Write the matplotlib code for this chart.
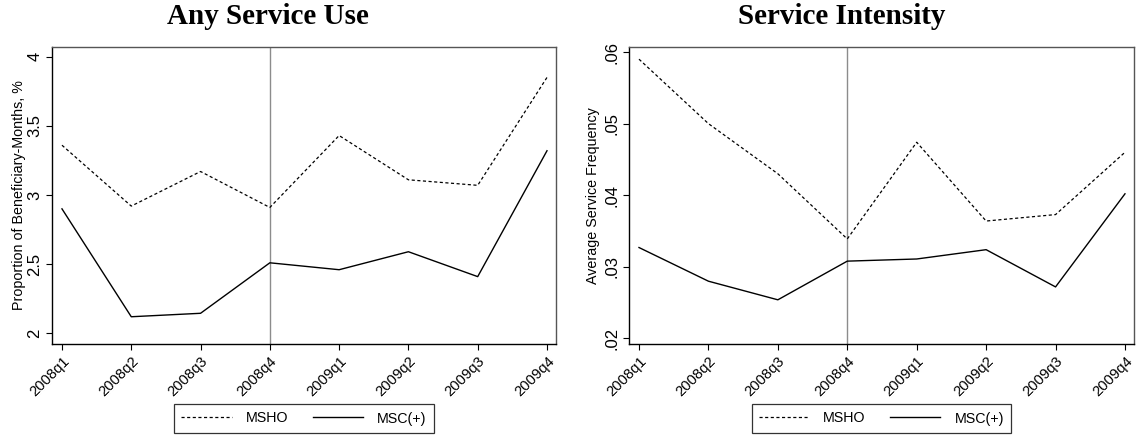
import matplotlib
matplotlib.use("Agg")
import matplotlib.pyplot as plt
from matplotlib.lines import Line2D

quarters = ["2008q1", "2008q2", "2008q3", "2008q4", "2009q1", "2009q2", "2009q3", "2009q4"]

use_msho = [3.36, 2.92, 3.17, 2.91, 3.43, 3.11, 3.07, 3.85]
use_msc = [2.90, 2.12, 2.145, 2.51, 2.46, 2.59, 2.41, 3.32]

int_msho = [0.059, 0.050, 0.043, 0.0339, 0.0474, 0.0364, 0.0373, 0.0460]
int_msc = [0.0327, 0.0280, 0.0254, 0.0308, 0.0311, 0.0324, 0.0272, 0.0402]

use_yticks = [2, 2.5, 3, 3.5, 4]
use_yticklabels = ["2", "2.5", "3", "3.5", "4"]
int_yticks = [0.02, 0.03, 0.04, 0.05, 0.06]
int_yticklabels = [".02", ".03", ".04", ".05", ".06"]

plt.rcParams['font.family'] = ['Liberation Sans', 'DejaVu Sans']

W, H = 1138, 437
fig = plt.figure(figsize=(W / 100, H / 100), dpi=100)

panels = [
    dict(rect=(52, 47, 556, 344), title="Any Service Use", tx=268, ylx=19,
         ylabel="Proportion of Beneficiary-Months, %", msho=use_msho, msc=use_msc,
         yticks=use_yticks, ylabels=use_yticklabels, ylim=(1.923, 4.07)),
    dict(rect=(629, 47, 1134, 344), title="Service Intensity", tx=842, ylx=593,
         ylabel="Average Service Frequency", msho=int_msho, msc=int_msc,
         yticks=int_yticks, ylabels=int_yticklabels, ylim=(0.01923, 0.0607)),
]

for p in panels:
    x0, y0, x1, y1 = p["rect"]
    ax = fig.add_axes([x0 / W, 1 - y1 / H, (x1 - x0) / W, (y1 - y0) / H])
    xs = list(range(len(quarters)))
    ax.axvline(3, color="#8c8c8c", lw=1.0, zorder=1)
    ax.plot(xs, p["msho"], color="black", lw=0.9, linestyle=(0, (2.5, 2.0)), zorder=3)
    ax.plot(xs, p["msc"], color="black", lw=1.0, linestyle="-", zorder=3)
    ax.set_xlim(-0.144, 7.13)
    lo, hi = p["ylim"]
    ax.set_ylim(lo, hi)
    ax.set_xticks(xs)
    ax.set_xticklabels(quarters, rotation=45, ha="right", rotation_mode="anchor", fontsize=10.6)
    ax.set_yticks(p["yticks"])
    ax.set_yticklabels(p["ylabels"], rotation=90, va="center", fontsize=12)
    ax.tick_params(direction="out", length=4, width=0.8, pad=3, colors="black")
    ax.set_ylabel(p["ylabel"], fontsize=10.3)
    ax.yaxis.label.set_va("center")
    ax.yaxis.set_label_coords((p["ylx"] - x0) / (x1 - x0), 0.5)
    for s in ["left", "bottom"]:
        ax.spines[s].set_color("black")
        ax.spines[s].set_linewidth(1.0)
    for s in ["top", "right"]:
        ax.spines[s].set_color("#555555")
        ax.spines[s].set_linewidth(1.0)
    fig.text(p["tx"] / W, 1 - 17 / H, p["title"], ha="center", va="center",
             fontsize=21, fontweight="bold", family=["Liberation Serif", "DejaVu Serif"])
    handles = [Line2D([0], [0], color="black", lw=0.9, linestyle=(0, (2.5, 2.0))),
               Line2D([0], [0], color="black", lw=1.0)]
    cx = (x0 + x1) / 2 / W
    leg = fig.legend(handles, ["MSHO", "MSC(+)"], loc="center", ncol=2,
                     bbox_to_anchor=(cx, 1 - 418.5 / H), frameon=True, fancybox=False,
                     edgecolor="black", fontsize=10.3, handlelength=3.5, columnspacing=1.7,
                     handletextpad=1.0, borderpad=0.5)
    leg.get_frame().set_linewidth(0.9)

fig.savefig("out.png", dpi=100)
